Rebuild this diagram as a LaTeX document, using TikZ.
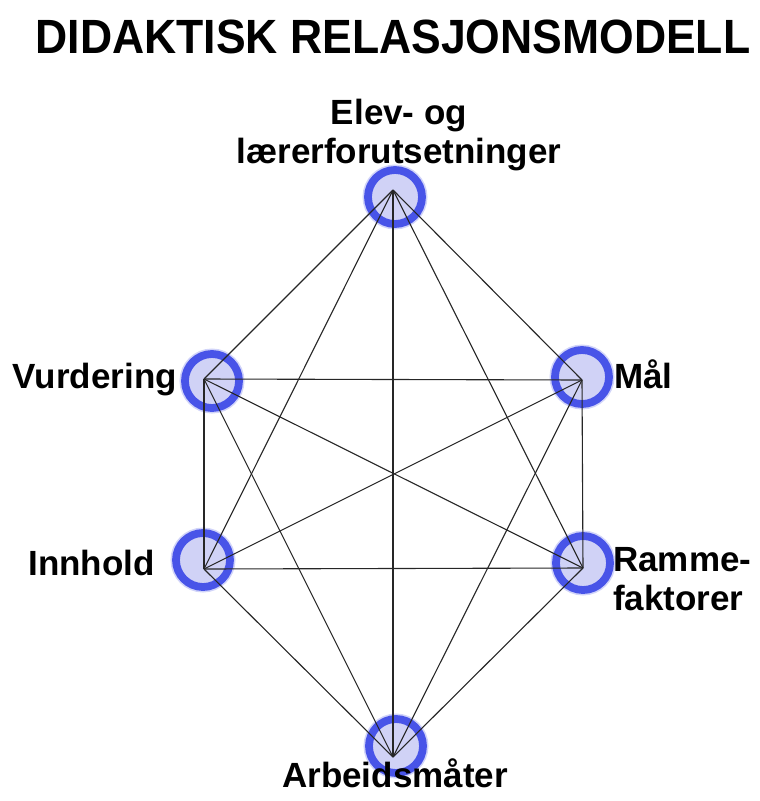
\documentclass[tikz,border=0pt]{standalone}
\usepackage{fontspec}
\setmainfont{Liberation Sans}
\definecolor{ringblue}{RGB}{72,84,232}
\definecolor{lavfill}{RGB}{208,210,246}
\begin{document}
\begin{tikzpicture}[x=1pt,y=-1pt,
  hub/.style={circle, minimum size=54pt, inner sep=0pt, fill=lavfill,
    draw=ringblue, line width=7.8pt,
    preaction={draw=ringblue!25, line width=11pt}},
  lbl/.style={inner sep=0pt, font=\fontsize{35}{39}\selectfont\bfseries},
  link/.style={draw=black!85, line width=1.1pt}]
\useasboundingbox (0,0) rectangle (760,801);
% title
\node[anchor=base, inner sep=0pt] (title) at (393,53)
  {\scalebox{1}[1.08]{\fontsize{44.5}{50}\selectfont\bfseries DIDAKTISK RELASJONSMODELL}};
% hubs
\node[hub] (T) at (395,197) {};
\node[hub] (V) at (212,381) {};
\node[hub] (M) at (582,377) {};
\node[hub] (I) at (203,560) {};
\node[hub] (R) at (583,563) {};
\node[hub] (A) at (396,746) {};
% convergence points
\coordinate (pT) at (393,190);
\coordinate (pV) at (204,379);
\coordinate (pM) at (582,380);
\coordinate (pI) at (204,569);
\coordinate (pR) at (583,568);
\coordinate (pA) at (393,757);
% links
\foreach \a/\b in {pT/pV,pT/pM,pT/pI,pT/pR,pT/pA,
                   pV/pM,pV/pI,pV/pR,pV/pA,
                   pM/pI,pM/pR,pM/pA,
                   pI/pR,pI/pA,
                   pR/pA}
  \draw[link] (\a) -- (\b);
% labels
\node[lbl, align=center, anchor=base] (lT) at (399,163) {Elev- og\\lærerforutsetninger};
\node[lbl, anchor=base east] (lV) at (177,388) {Vurdering};
\node[lbl, anchor=base west] (lM) at (614,388) {Mål};
\node[lbl, anchor=base east] (lI) at (155,575) {Innhold};
\node[lbl, align=left, anchor=base west] (lR) at (613,610) {Ramme-\\faktorer};
\node[lbl, anchor=base] (lA) at (395,787) {Arbeidsmåter};
\end{tikzpicture}
\end{document}
